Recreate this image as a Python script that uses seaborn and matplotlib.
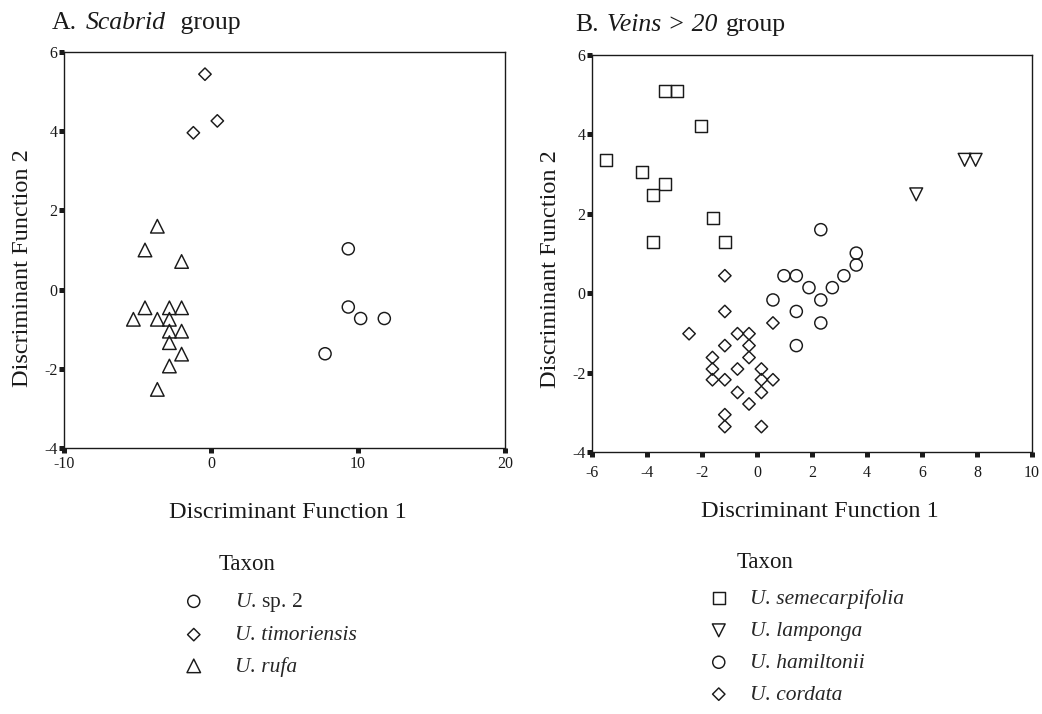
import numpy as np
import pandas as pd
import matplotlib
matplotlib.use("Agg")
import matplotlib.pyplot as plt
from matplotlib.offsetbox import TextArea, HPacker, AnchoredOffsetbox
import seaborn as sns

# ---------------- data: panel A (Scabrid group) ----------------
sp2_x = [9.34, 9.34, 10.18, 11.79, 7.76]
sp2_y = [1.03, -0.44, -0.73, -0.73, -1.62]
tim_x = [-0.41, 0.43, -1.20]
tim_y = [5.44, 4.26, 3.96]
rufa_x = [-3.65, -4.49, -2.00, -4.49, -2.83, -2.00, -5.28, -3.65, -2.83,
          -2.83, -2.00, -2.83, -2.00, -2.83, -3.65]
rufa_y = [1.60, 1.00, 0.71, -0.46, -0.46, -0.46, -0.75, -0.75, -0.75,
          -1.05, -1.05, -1.34, -1.63, -1.93, -2.52]

# ---------------- data: panel B (Veins > 20 group) ----------------
sem_x = [-3.33, -2.90, -2.02, -5.50, -4.19, -3.33, -3.78, -1.60, -3.78, -1.15]
sem_y = [5.10, 5.10, 4.22, 3.36, 3.06, 2.76, 2.47, 1.89, 1.30, 1.30]
lam_x = [5.79, 7.55, 7.95]
lam_y = [2.49, 3.36, 3.36]
ham_x = [2.32, 3.61, 3.61, 0.98, 1.43, 3.16, 1.89, 2.74, 0.58, 2.32, 1.43, 2.32, 1.43]
ham_y = [1.60, 1.01, 0.71, 0.44, 0.44, 0.44, 0.14, 0.14, -0.17, -0.17, -0.46, -0.75, -1.32]
cor_x = [-1.17, -1.17, 0.58, -2.47, -0.71, -0.29, -1.17, -0.29, -1.62, -0.29,
         -1.62, -0.71, 0.16, -1.62, -1.17, 0.16, 0.58, -0.71, 0.16, -0.29,
         -1.17, -1.17, 0.16]
cor_y = [0.44, -0.46, -0.75, -1.02, -1.02, -1.02, -1.32, -1.32, -1.62, -1.62,
         -1.91, -1.91, -1.91, -2.18, -2.18, -2.18, -2.18, -2.50, -2.50, -2.79,
         -3.06, -3.36, -3.36]

taxa_A = ["U. sp. 2", "U. timoriensis", "U. rufa"]
taxa_B = ["U. semecarpifolia", "U. lamponga", "U. hamiltonii", "U. cordata"]
labels_A = [r"$\it{U.}\,$sp. 2", "U. timoriensis", "U. rufa"]
labels_B = ["U. semecarpifolia", "U. lamponga", "U. hamiltonii", "U. cordata"]

xticks_A = [-10, 0, 10, 20]
yticks_A = [-4, -2, 0, 2, 4, 6]
xticks_B = [-6, -4, -2, 0, 2, 4, 6, 8, 10]
yticks_B = [-4, -2, 0, 2, 4, 6]

dfA = pd.DataFrame({
    "df1": sp2_x + tim_x + rufa_x,
    "df2": sp2_y + tim_y + rufa_y,
    "taxon": [taxa_A[0]] * len(sp2_x) + [taxa_A[1]] * len(tim_x) + [taxa_A[2]] * len(rufa_x),
})
dfB = pd.DataFrame({
    "df1": sem_x + lam_x + ham_x + cor_x,
    "df2": sem_y + lam_y + ham_y + cor_y,
    "taxon": [taxa_B[0]] * len(sem_x) + [taxa_B[1]] * len(lam_x)
             + [taxa_B[2]] * len(ham_x) + [taxa_B[3]] * len(cor_x),
})

# ---------------- style ----------------
sns.set_style("ticks")
plt.rcParams["font.family"] = ["Liberation Serif", "DejaVu Serif"]
plt.rcParams["mathtext.fontset"] = "custom"
plt.rcParams["mathtext.rm"] = "Liberation Serif"
plt.rcParams["mathtext.it"] = "Liberation Serif:italic"
plt.rcParams["mathtext.bf"] = "Liberation Serif:bold"

ink = "#1a1a1a"
W, H = 1042, 714
fig = plt.figure(figsize=(W / 100, H / 100), dpi=100)
fig.patch.set_facecolor("white")

axA = fig.add_axes([64 / W, 1 - 448 / H, 441 / W, 396 / H])
axB = fig.add_axes([592 / W, 1 - 452 / H, 440 / W, 397 / H])

mk_A = {taxa_A[0]: "o", taxa_A[1]: "D", taxa_A[2]: "^"}
sz_A = {taxa_A[0]: 76, taxa_A[1]: 40, taxa_A[2]: 95}
mk_B = {taxa_B[0]: "s", taxa_B[1]: "v", taxa_B[2]: "o", taxa_B[3]: "D"}
sz_B = {taxa_B[0]: 74, taxa_B[1]: 85, taxa_B[2]: 76, taxa_B[3]: 40}


def draw(ax, df, taxa, mk, sz):
    handles = []
    for t in taxa:
        n0 = len(ax.collections)
        sns.scatterplot(data=df[df["taxon"] == t], x="df1", y="df2",
                        marker=mk[t], s=sz[t], facecolor="none",
                        edgecolor=ink, linewidth=1.05, ax=ax, legend=False,
                        zorder=3)
        coll = ax.collections[n0]
        coll.set_facecolor("none")
        coll.set_edgecolor(ink)
        handles.append(coll)
    return handles


hA = draw(axA, dfA, taxa_A, mk_A, sz_A)
hB = draw(axB, dfB, taxa_B, mk_B, sz_B)


def style_axis(ax, xt, yt, xpad):
    ax.set_xlim(xt[0], xt[-1])
    ax.set_ylim(yt[0], yt[-1])
    ax.set_xticks(xt)
    ax.set_yticks(yt)
    ax.set_xticklabels([str(v) for v in xt])
    ax.set_yticklabels([str(v) for v in yt])
    for sp in ax.spines.values():
        sp.set_visible(True)
        sp.set_linewidth(1.0)
        sp.set_color(ink)
    ax.tick_params(direction="out", length=3.3, width=3.6, color=ink,
                   labelsize=11.5, labelcolor=ink, pad=1.5)
    ax.tick_params(axis="x", pad=xpad)
    ax.set_xlabel("Discriminant Function 1", fontsize=17.5, color=ink)
    ax.set_ylabel("Discriminant Function 2", fontsize=17.5, color=ink)
    ax.xaxis.label.set_va("center")
    ax.yaxis.label.set_va("center")


style_axis(axA, xticks_A, yticks_A, 2.5)
style_axis(axB, xticks_B, yticks_B, 6.0)

axA.xaxis.set_label_coords(0.508, -0.162)
axA.yaxis.set_label_coords(-0.095, 0.455)
axB.xaxis.set_label_coords(0.518, -0.151)
axB.yaxis.set_label_coords(-0.095, 0.461)


def title(parts, x, y):
    areas = []
    for s, it in parts:
        areas.append(TextArea(s, textprops=dict(fontsize=18.5, color=ink,
                                                fontstyle="italic" if it else "normal")))
    box = HPacker(children=areas, align="baseline", pad=0, sep=6)
    ab = AnchoredOffsetbox(loc="center left", child=box, pad=0, borderpad=0,
                           frameon=False, bbox_to_anchor=(x / W, 1 - y / H),
                           bbox_transform=fig.transFigure)
    fig.add_artist(ab)


title([("A.", False), ("Scabrid", True), (" group", False)], 52, 23)
title([("B.", False), ("Veins > 20", True), ("group", False)], 575, 25)

fig.text(219 / W, 1 - 565 / H, "Taxon", fontsize=16.5, ha="left", va="center", color=ink)
fig.text(737 / W, 1 - 562 / H, "Taxon", fontsize=16.5, ha="left", va="center", color=ink)

legA = axA.legend(hA, labels_A, loc="upper left",
                  bbox_to_anchor=(183 / W, 1 - 591 / H),
                  bbox_transform=fig.transFigure, frameon=False,
                  fontsize=15.5, handlelength=1.0, handletextpad=1.4,
                  labelspacing=0.52, borderpad=0, borderaxespad=0)
for txt in legA.get_texts()[1:]:
    txt.set_fontstyle("italic")

legB = axB.legend(hB, labels_B, loc="upper left",
                  bbox_to_anchor=(708 / W, 1 - 589 / H),
                  bbox_transform=fig.transFigure, frameon=False,
                  fontsize=15.5, handlelength=1.0, handletextpad=0.93,
                  labelspacing=0.55, borderpad=0, borderaxespad=0)
for txt in legB.get_texts():
    txt.set_fontstyle("italic")

fig.savefig("out.png", dpi=100, facecolor="white")
